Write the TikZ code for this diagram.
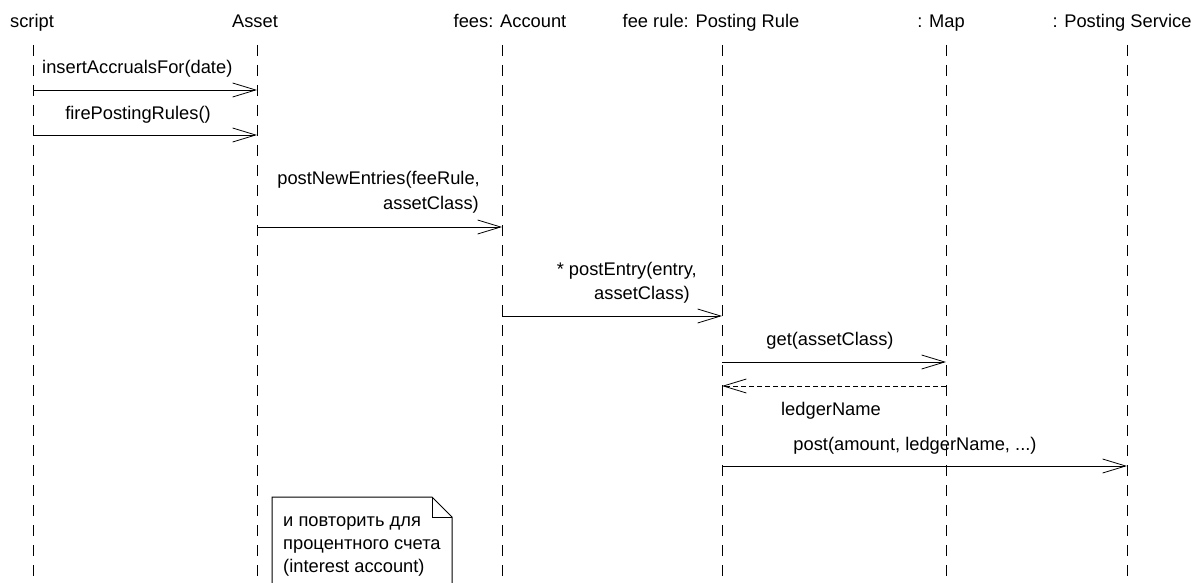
\documentclass[tikz,border=0pt]{standalone}
\usepackage{fontspec}
\setmainfont{Liberation Sans}
\usetikzlibrary{arrows.meta}
\begin{document}
\begin{tikzpicture}[x=1pt,y=-1pt,
  lbl/.style={font=\fontsize{18.3}{22}\selectfont, inner sep=0pt},
  head/.style={font=\fontsize{18.3}{22}\selectfont, inner sep=0pt, anchor=base},
  lifeline/.style={line width=1pt, dash pattern=on 11pt off 9pt},
  msg/.style={line width=0.8pt, -{Straight Barb[length=23pt,width=14pt,line width=0.8pt]}},
  ret/.style={line width=0.8pt, dash pattern=on 5pt off 3pt, -{Straight Barb[length=23pt,width=14pt,line width=0.8pt]}},
  note/.style={line width=1pt}]
\useasboundingbox (0,0) rectangle (1197,583);
% headers
\node[head] (hs) at (32,28) {script};
\node[head] (ha) at (255,28) {Asset};
\node[head] (hf) at (510,28) {fees: Account};
\node[head] (hr) at (711,28) {fee rule: Posting Rule};
\node[head] (hm) at (941,28) {: Map};
\node[head] (hp) at (1122,28) {: Posting Service};
% lifelines
\coordinate (Ls) at (33,45);   \coordinate (Bs) at (33,583);
\coordinate (La) at (257,45);  \coordinate (Ba) at (257,583);
\coordinate (Lf) at (502,45);  \coordinate (Bf) at (502,583);
\coordinate (Lr) at (722,45);  \coordinate (Br) at (722,583);
\coordinate (Lm) at (946,45);  \coordinate (Bm) at (946,583);
\coordinate (Lp) at (1127,45); \coordinate (Bp) at (1127,583);
\foreach \t/\b in {Ls/Bs,La/Ba,Lf/Bf,Lr/Br,Lm/Bm,Lp/Bp}
  \draw[lifeline] (\t) -- (\b);
% message 1
\node[lbl, anchor=base west] (t1) at (42,74) {insertAccrualsFor(date)};
\draw[msg] (Ls |- 0,90) -- (La |- 0,90);
% message 2
\node[lbl, anchor=base] (t2) at (138,120) {firePostingRules()};
\draw[msg] (Ls |- 0,135) -- (La |- 0,135);
% message 3
\node[lbl, anchor=base east] (t3a) at (480,185) {postNewEntries(feeRule,};
\node[lbl, anchor=base east] (t3b) at (479,209) {assetClass)};
\draw[msg] (La |- 0,227) -- (Lf |- 0,227);
% message 4
\node[lbl, anchor=base east] (t4a) at (697,275) {* postEntry(entry,};
\node[lbl, anchor=base east] (t4b) at (690,299) {assetClass)};
\draw[msg] (Lf |- 0,316) -- (Lr |- 0,316);
% message 5
\node[lbl, anchor=base] (t5) at (830,345) {get(assetClass)};
\draw[msg] (Lr |- 0,362) -- (Lm |- 0,362);
% return
\draw[ret] (Lm |- 0,386) -- (Lr |- 0,386);
\node[lbl, anchor=base] (t6) at (831,415) {ledgerName};
% message 7
\node[lbl, anchor=base] (t7) at (915,450) {post(amount, ledgerName, ...)};
\draw[msg] (Lr |- 0,466) -- (Lp |- 0,466);
% note
\draw[note] (272,590) -- (272,497) -- (432,497) -- (452,517) -- (452,590);
\draw[note] (432,497) -- (432,517) -- (452,517);
\node[lbl, anchor=base west] (n1) at (283,526) {и повторить для};
\node[lbl, anchor=base west] (n2) at (283,549) {процентного счета};
\node[lbl, anchor=base west] (n3) at (283,572) {(interest account)};
\end{tikzpicture}
\end{document}
